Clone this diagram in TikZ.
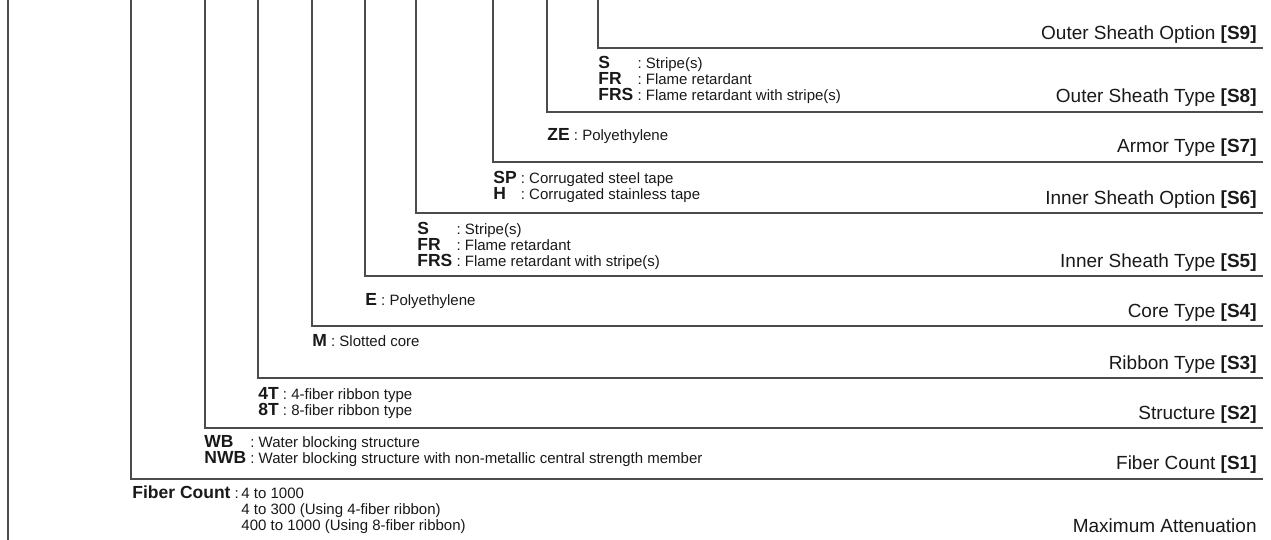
\documentclass[tikz,border=0pt]{standalone}
\usepackage{fontspec}
\setmainfont{Liberation Sans}
\usetikzlibrary{positioning}

\newcommand\optkey[1]{\smash{\fontsize{8.75}{9}\selectfont\bfseries #1}}
\newcommand\optlist[1]{\begin{tabular}{@{}l@{\ :\ }l@{}}#1\end{tabular}}

\begin{document}
\begin{tikzpicture}[
    x=0.5pt, y=-0.5pt,
    font=\fontsize{7.5}{7.95}\selectfont,
    bracket/.style={draw=black!70, line width=0.6pt},
    option/.style={
        anchor=west, inner sep=0pt,
        text=black!90, align=left
    },
    code/.style={
        anchor=east, inner sep=0pt,
        text=black!90,
        font=\fontsize{9.5}{11}\selectfont
    }
]
\useasboundingbox (0,0) rectangle (1271,540);

% ============ Code positions ============
\node[code] (s9) at (1257,35) {Outer Sheath Option \textbf{[S9]}};
\node[code] (s8) at (1257,98) {Outer Sheath Type \textbf{[S8]}};
\node[code] (s7) at (1257,148) {Armor Type \textbf{[S7]}};
\node[code] (s6) at (1257,200) {Inner Sheath Option \textbf{[S6]}};
\node[code] (s5) at (1257,263) {Inner Sheath Type \textbf{[S5]}};
\node[code] (s4) at (1257,313) {Core Type \textbf{[S4]}};
\node[code] (s3) at (1257,365) {Ribbon Type \textbf{[S3]}};
\node[code] (s2) at (1257,415) {Structure \textbf{[S2]}};
\node[code] (s1) at (1257,465) {Fiber Count \textbf{[S1]}};
\node[code] (maxatt) at (1257,526) {Maximum Attenuation};

% ============ Options ============
\node[option] (outertype) at (598,81) {\optlist{
    \optkey{S} & Stripe(s)\\
    \optkey{FR} & Flame retardant\\
    \optkey{FRS} & Flame retardant with stripe(s)}};
\node[option] (armor) at (547,137) {\optlist{\optkey{ZE} & Polyethylene}};
\node[option] (inneropt) at (493,188) {\optlist{
    \optkey{SP} & Corrugated steel tape\\
    \optkey{H} & Corrugated stainless tape}};
\node[option] (innertype) at (417,247) {\optlist{
    \optkey{S} & Stripe(s)\\
    \optkey{FR} & Flame retardant\\
    \optkey{FRS} & Flame retardant with stripe(s)}};
\node[option] (core) at (365,302) {\optlist{\optkey{E} & Polyethylene}};
\node[option] (ribbon) at (312,343) {\optlist{\optkey{M} & Slotted core}};
\node[option] (structure) at (258,404) {\optlist{
    \optkey{4T} & 4-fiber ribbon type\\
    \optkey{8T} & 8-fiber ribbon type}};
\node[option] (fiber) at (204,452) {\optlist{
    \optkey{WB} & Water blocking structure\\
    \optkey{NWB} & Water blocking structure with non-metallic central strength member}};
\node[option] (count) at (132,511) {\begin{tabular}{@{}l@{\ }l@{\,}l@{}}
    \optkey{Fiber Count} & : & 4 to 1000\\
    & & 4 to 300 (Using 4-fiber ribbon)\\
    & & 400 to 1000 (Using 8-fiber ribbon)
\end{tabular}};

% ============ Brackets ============
\coordinate (top9) at (598,0);  \coordinate (end9) at (1263,48);
\coordinate (top8) at (547,0);  \coordinate (end8) at (1263,112);
\coordinate (top7) at (493,0);  \coordinate (end7) at (1263,162);
\coordinate (top6) at (416,0);  \coordinate (end6) at (1263,213);
\coordinate (top5) at (365,0);  \coordinate (end5) at (1263,276);
\coordinate (top4) at (312,0);  \coordinate (end4) at (1263,326);
\coordinate (top3) at (258,0);  \coordinate (end3) at (1263,378);
\coordinate (top2) at (205,0);  \coordinate (end2) at (1263,428);
\coordinate (top1) at (131,0);  \coordinate (end1) at (1263,479);
\coordinate (top0) at (8,0);    \coordinate (end0) at (8,540);

\draw[bracket] (top9) |- (end9);
\draw[bracket] (top8) |- (end8);
\draw[bracket] (top7) |- (end7);
\draw[bracket] (top6) |- (end6);
\draw[bracket] (top5) |- (end5);
\draw[bracket] (top4) |- (end4);
\draw[bracket] (top3) |- (end3);
\draw[bracket] (top2) |- (end2);
\draw[bracket] (top1) |- (end1);
\draw[bracket] (top0) -- (end0);

\end{tikzpicture}
\end{document}
